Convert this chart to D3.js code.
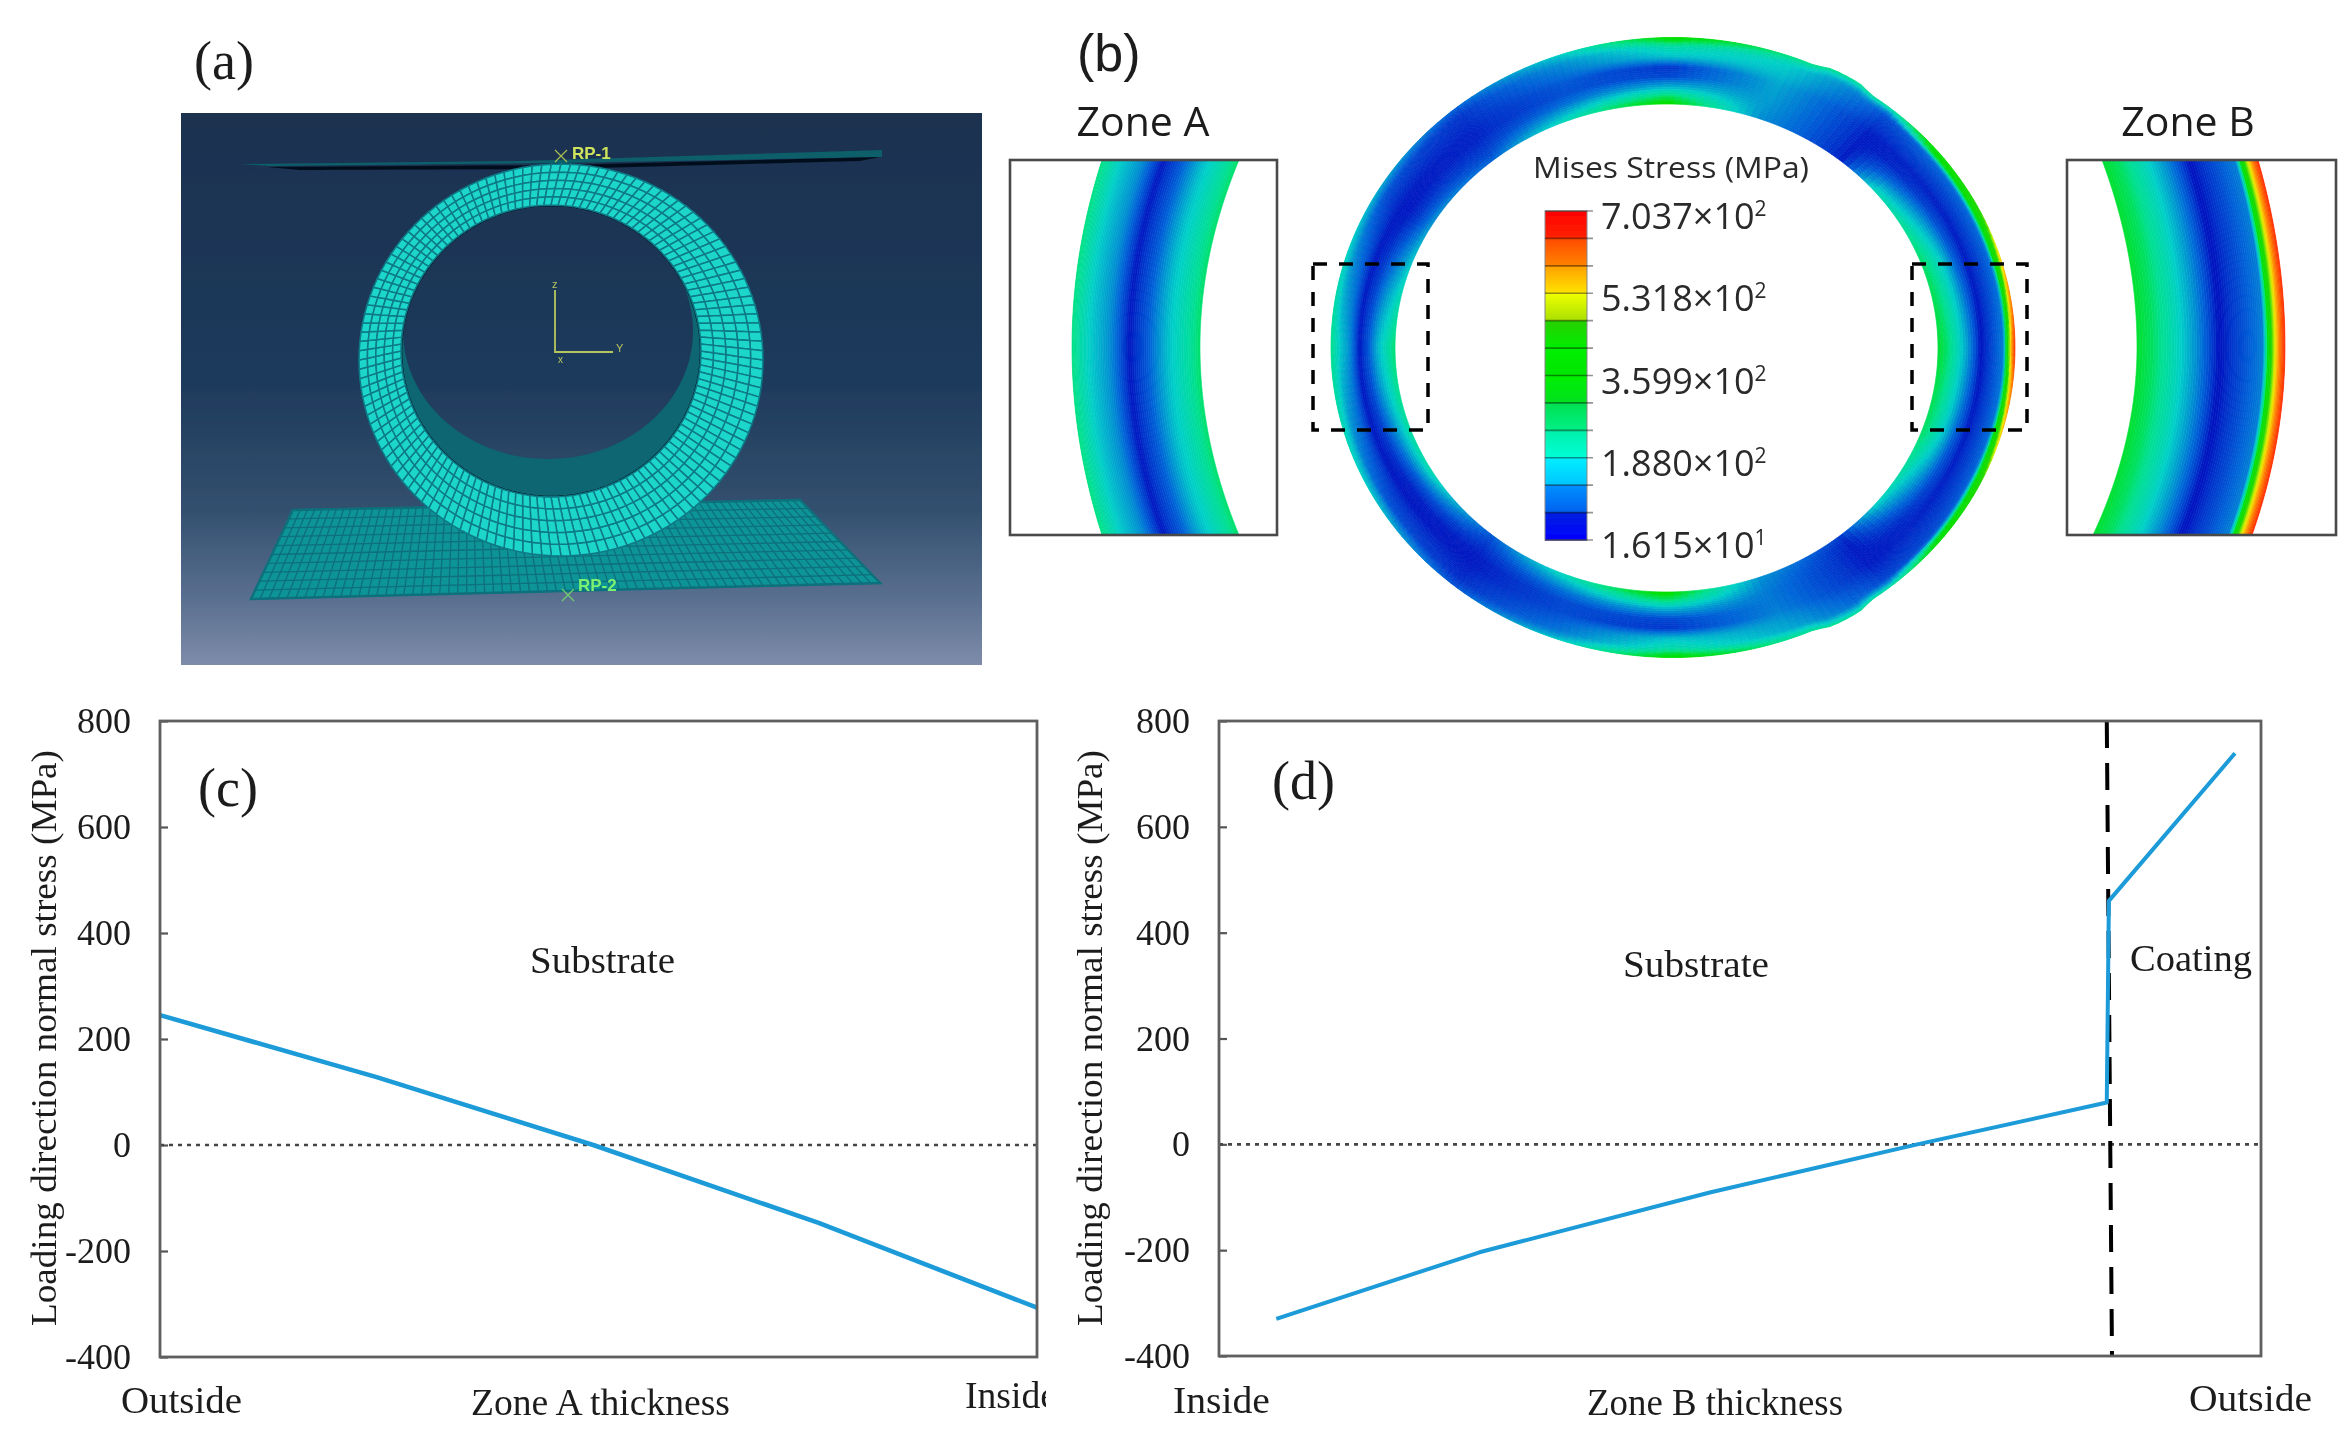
<!DOCTYPE html>
<html><head><meta charset="utf-8">
<script src="https://cdnjs.cloudflare.com/ajax/libs/d3/7.8.5/d3.min.js"></script>
<style>html,body{margin:0;padding:0;background:#fff;width:2350px;height:1440px;overflow:hidden}svg{display:block}</style>
</head><body><svg id="chart" width="2350" height="1440" xmlns="http://www.w3.org/2000/svg"></svg>
<script>
// ---------- data ----------
const yTicks = [-400,-200,0,200,400,600,800];
const panelCx = [0, 0.247, 0.494, 0.751, 1];
const panelCy = [245, 128, 0, -147, -307];
const panelDx = [0.055, 0.25, 0.471, 0.668, 0.852, 0.854, 0.975];
const panelDy = [-330, -204, -91, -1, 79, 460, 739];
const interfaceDx = [0.852, 0.857];
const yTitle = "Loading direction normal stress (MPa)";
const barTicks = [703.7, 531.8, 359.9, 188.0, 16.15];
const barLabels = [["7.037","2"],["5.318","2"],["3.599","2"],["1.880","2"],["1.615","1"]];
const bandTop =    ["#ff0000","#ff4a00","#ffa000","#f0ff00","#28d000","#00f000","#00f000","#00e050","#00f0a8","#00f0ff","#0090ff","#0020e0"];
const bandBottom = ["#ff2400","#ff8400","#ffe400","#a8e000","#00ee00","#00e400","#00e020","#00f088","#00ffd8","#00c4ff","#0060ee","#0000ff"];
const ringStress = [16,45,80,125,165,225,300,460,531,600,704];
const ringColors = ["#0000b8","#0034cc","#0064d8","#00a0d0","#00d0c8","#00e090","#00e000","#20d800","#f0f000","#ff9000","#ff2000"];
const uStops = [0,.03,.06,.09,.12,.15,.3,.45,.6,.75,.9,1];
const profileAngles = [0,20,40,50,70,90,110,130,150,180,210,230,250,270,290,310,320,340,360];
const profiles = [
 [700,640,560,470,280,100,60,25,110,188,250,275],
 [540,480,400,320,200,85,55,30,80,160,220,250],
 [320,310,290,240,120,80,55,35,40,80,140,190],
 [220,170,120,90,70,60,45,32,30,30,30,35],
 [240,220,200,185,175,165,150,130,125,120,115,110],
 [320,300,280,250,225,200,150,45,60,140,260,320],
 [170,150,140,130,120,110,90,70,65,90,150,200],
 [80,70,60,55,50,45,40,35,35,45,60,80],
 [140,120,105,90,75,65,45,30,30,45,80,120],
 [235,220,205,190,175,160,110,28,75,150,205,245],
 [160,140,125,110,90,70,50,28,35,70,140,200],
 [70,60,55,50,45,40,35,30,30,40,55,70],
 [170,140,125,110,100,90,75,60,60,90,150,200],
 [320,300,280,250,225,200,150,45,60,140,260,320],
 [230,210,190,170,150,135,120,100,95,95,105,115],
 [220,170,120,90,65,55,40,30,30,30,35,50],
 [300,290,270,200,90,60,45,35,40,70,120,170],
 [540,480,400,320,200,85,55,30,80,160,220,250],
 [700,640,560,470,280,100,60,25,110,188,250,275]
];

// ---------- helpers ----------
const svg = d3.select("#chart");
const defs = svg.append("defs");
const SERIF = "'Liberation Serif','Times New Roman',serif";
const SANS = "'Open Sans','Noto Sans',sans-serif";
const TXT = "#1c1c1c";
defs.append("filter").attr("id","soft").attr("filterUnits","userSpaceOnUse")
  .attr("x",0).attr("y",0).attr("width",2350).attr("height",1440)
  .append("feGaussianBlur").attr("stdDeviation",0.75);
const root = svg.append("g").attr("filter","url(#soft)");
root.append("rect").attr("width",2350).attr("height",1440).attr("fill","#fff");
const lerp = (a,b,t)=>a+(b-a)*t;
function addText(g,str,x,y,size,opts={}){
  return g.append("text").attr("x",x).attr("y",y).attr("font-size",size)
    .attr("font-family",opts.family||SERIF).attr("fill",opts.fill||TXT)
    .attr("text-anchor",opts.anchor||"start").attr("font-weight",opts.weight||"normal")
    .text(str);
}

// ---------- panel (a) : FE mesh illustration ----------
(function(){
  const g = root.append("g");
  const grad = defs.append("linearGradient").attr("id","bgA").attr("x1",0).attr("y1",0).attr("x2",0).attr("y2",1);
  [[0,"#1a3150"],[.5,"#1f3b5c"],[.72,"#33506f"],[.88,"#5a6f90"],[1,"#7d8ca9"]].forEach(s=>grad.append("stop").attr("offset",s[0]).attr("stop-color",s[1]));
  g.append("rect").attr("x",181).attr("y",113).attr("width",801).attr("height",552).attr("fill","url(#bgA)");

  // floor plate mesh
  const c = [[293,510],[800,500],[880,583],[251,599]];
  const bil=(s,t)=>{const a=[lerp(c[0][0],c[1][0],s),lerp(c[0][1],c[1][1],s)],b=[lerp(c[3][0],c[2][0],s),lerp(c[3][1],c[2][1],s)];return [lerp(a[0],b[0],t),lerp(a[1],b[1],t)];};
  g.append("path").attr("d","M"+c.join("L")+"Z").attr("fill","#0e9496").attr("stroke","#0a7480").attr("stroke-width",2.5);
  const line=d3.line();
  const floorLines=[];
  d3.range(0,1.0001,1/70).forEach(s=>floorLines.push([bil(s,0),bil(s,1)]));
  d3.range(0,1.0001,1/10).forEach(t=>floorLines.push([bil(0,t),bil(1,t)]));
  g.selectAll(".fl").data(floorLines).join("path").attr("d",line).attr("stroke","#0a6f7a").attr("stroke-width",1.3).attr("fill","none");

  // top plate
  g.append("path").attr("d","M240,164L520,161L882,150L882,157L560,163L270,166Z").attr("fill","#0e5e6b");
  g.append("path").attr("d","M267,167L560,165L880,157L860,161L560,169L300,170Z").attr("fill","#04101c");

  // ring: inner wall
  const O={cx:561,cy:360,rx:202,ry:196}, I={cx:551,cy:351,rx:150,ry:146}, B={cx:548,cy:331,rx:145,ry:128};
  const ell=(e,ph)=>[e.cx+e.rx*Math.cos(ph),e.cy+e.ry*Math.sin(ph)];
  const loop=e=>"M"+d3.range(0,360,3).map(d=>ell(e,d*Math.PI/180)).join("L")+"Z";
  g.append("path").attr("d",loop(I)+loop(B)).attr("fill-rule","evenodd").attr("fill","#0b6672");
  g.append("path").attr("d",loop(I)).attr("fill","none").attr("stroke","#061a28").attr("stroke-width",2.5);
  // ring: face cells
  const N=132,R=5,cells=[];
  d3.range(N).forEach(i=>d3.range(R).forEach(j=>{
    const a0=i/N*2*Math.PI,a1=(i+1)/N*2*Math.PI,u0=j/R,u1=(j+1)/R;
    const p=(a,u)=>{const q=ell(O,a),r=ell(I,a);return [lerp(q[0],r[0],u),lerp(q[1],r[1],u)];};
    cells.push([p(a0,u0),p(a1,u0),p(a1,u1),p(a0,u1)]);
  }));
  g.selectAll(".cell").data(cells).join("path").attr("d",d=>"M"+d.join("L")+"Z")
    .attr("fill","#1fd6cc").attr("stroke","#0b7a86").attr("stroke-width",1.5);

  // triad and reference points
  const ol="#b6c65c";
  g.append("path").attr("d","M555,290V352H613").attr("fill","none").attr("stroke",ol).attr("stroke-width",1.8);
  addText(g,"z",552,288,11,{family:"'Liberation Sans',sans-serif",fill:ol});
  addText(g,"Y",616,352,11,{family:"'Liberation Sans',sans-serif",fill:ol});
  addText(g,"x",558,363,10,{family:"'Liberation Sans',sans-serif",fill:ol});
  g.append("path").attr("d","M555,150L567,162M567,150L555,162").attr("stroke","#a8c050").attr("stroke-width",1.2);
  addText(g,"RP-1",572,159,17,{family:"'Liberation Sans',sans-serif",fill:"#cfe45c",weight:"bold"});
  g.append("path").attr("d","M562,589L574,601M574,589L562,601").attr("stroke","#70d070").attr("stroke-width",1.2);
  addText(g,"RP-2",578,591,17,{family:"'Liberation Sans',sans-serif",fill:"#7cf070",weight:"bold"});
  addText(g,"(a)",194,79,54);
})();

// ---------- panel (b) : Mises stress contour ----------
const stressColor = d3.scaleLinear().domain(ringStress).range(ringColors).clamp(true);
function profileAt(deg){
  deg=((deg%360)+360)%360;
  let i=d3.bisectRight(profileAngles,deg)-1; i=Math.min(i,profileAngles.length-2);
  const t=(deg-profileAngles[i])/(profileAngles[i+1]-profileAngles[i]);
  return profiles[i].map((v,k)=>lerp(v,profiles[i+1][k],t));
}
(function(){
  const g=root.append("g");
  const bump=deg=>{ // local contact flats on the outer edge
    const b=(c,w)=>Math.abs(deg-c)<w?1-Math.pow(Math.abs(deg-c)/w,4):0;
    return 1+0.012*b(60,5)+0.012*b(300,5);
  };
  const pt=(deg,u)=>{
    const a=deg*Math.PI/180,k=bump(deg);
    const ox=1673+342*k*Math.cos(a),oy=347.5-310*k*Math.sin(a);
    const ix=1666.5+271.5*Math.cos(a),iy=348-244*Math.sin(a);
    return [lerp(ox,ix,u),lerp(oy,iy,u)];
  };
  const NA=240,NU=36,cells=[];
  d3.range(NA).forEach(i=>{
    const d0=i/NA*360,d1=(i+1)/NA*360,sc=d3.scaleLinear().domain(uStops).range(profileAt((d0+d1)/2));
    d3.range(NU).forEach(j=>{
      const u0=Math.pow(j/NU,1.35),u1=Math.pow((j+1)/NU,1.35);
      cells.push({p:[pt(d0,u0),pt(d1,u0),pt(d1,u1),pt(d0,u1)],c:stressColor(sc((u0+u1)/2))});
    });
  });
  g.selectAll(".rc").data(cells).join("path").attr("d",d=>"M"+d.p.join("L")+"Z")
    .attr("fill",d=>d.c).attr("stroke",d=>d.c).attr("stroke-width",.7);

  // dashed selection boxes
  [[1313,264,115,166],[1912,264,115,166]].forEach(b=>g.append("rect")
    .attr("x",b[0]).attr("y",b[1]).attr("width",b[2]).attr("height",b[3])
    .attr("fill","none").attr("stroke","#000").attr("stroke-width",3.5).attr("stroke-dasharray","14 12"));

  // zoomed insets
  function inset(box,inner,outer,deg){
    const top=160,bot=535,ym=347;
    const edge=(e,y)=>{const f=(y-ym)/(y<ym?ym-top:bot-ym);return e[1]+((y<ym?e[0]:e[2])-e[1])*f*f;};
    const sc=d3.scaleLinear().domain(uStops).range(profileAt(deg));
    const ys=d3.range(top,bot+1,5),L=70,layers=[];
    d3.range(L).forEach(j=>{
      const u0=Math.pow(j/L,1.3),u1=Math.pow((j+1)/L,1.3);
      layers.push({u0,u1,c:stressColor(sc((u0+u1)/2))});
    });
    const area=d3.area().y(d=>d.y).x0(d=>d.a).x1(d=>d.b);
    g.selectAll(null).data(layers).join("path").attr("d",l=>area(ys.map(y=>{
      const o=edge(outer,y),i=edge(inner,y);
      return {y,a:lerp(o,i,l.u0),b:lerp(o,i,l.u1)};
    }))).attr("fill",l=>l.c).attr("stroke",l=>l.c).attr("stroke-width",.6);
    g.append("rect").attr("x",box[0]).attr("y",top).attr("width",box[1]-box[0]).attr("height",bot-top)
      .attr("fill","none").attr("stroke","#4a4a4a").attr("stroke-width",2.6);
  }
  inset([1010,1277],[1239,1200,1239],[1102,1072,1102],180);
  inset([2067,2336],[2102,2137,2093],[2258,2285,2252],0);

  addText(g,"Zone A",1143,136,41,{family:SANS,anchor:"middle"});
  addText(g,"Zone B",2188,136,41,{family:SANS,anchor:"middle"});
  addText(g,"(b)",1077,71,52,{family:"'Liberation Sans',sans-serif"});
  addText(g,"Mises Stress (MPa)",1533,178,28.5,{family:SANS,fill:"#2a2a2a"}).attr("textLength",276).attr("lengthAdjust","spacingAndGlyphs");

  // colour bar
  const barY=d3.scaleLinear().domain([16.15,703.7]).range([540,211]);
  const edges=d3.range(13).map(i=>lerp(703.7,16.15,i/12));
  const bands=d3.range(12).map(i=>({i,hi:edges[i],lo:edges[i+1]}));
  bands.forEach(b=>{
    const gr=defs.append("linearGradient").attr("id","band"+b.i).attr("x1",0).attr("y1",0).attr("x2",0).attr("y2",1);
    gr.append("stop").attr("offset",0).attr("stop-color",bandTop[b.i]);
    gr.append("stop").attr("offset",1).attr("stop-color",bandBottom[b.i]);
  });
  g.selectAll(".band").data(bands).join("rect").attr("x",1545).attr("width",42)
    .attr("y",b=>barY(b.hi)).attr("height",b=>barY(b.lo)-barY(b.hi)+.5).attr("fill",b=>`url(#band${b.i})`);
  g.append("rect").attr("x",1545).attr("y",211).attr("width",42).attr("height",329).attr("fill","none").attr("stroke","#888").attr("stroke-width",1);
  const axBar=g.append("g").attr("transform","translate(1545,0)");
  axBar.selectAll("line").data(edges).join("line").attr("x1",0).attr("x2",48)
    .attr("y1",d=>barY(d)).attr("y2",d=>barY(d)).attr("stroke","#000").attr("stroke-opacity",.42).attr("stroke-width",1.6);
  barTicks.forEach((v,i)=>{
    const t=addText(g,"",1601,barY(v)+18,36,{family:SANS,fill:"#2a2a2a"});
    t.append("tspan").text(barLabels[i][0]+"\u00d710");
    t.append("tspan").attr("dy",-13).attr("font-size",21).text(barLabels[i][1]);
  });
})();

// ---------- panels (c) and (d) : stress profiles ----------
function profilePanel(o){
  const g=root.append("g");
  const x=d3.scaleLinear().domain([0,1]).range([o.left,o.right]);
  const y=d3.scaleLinear().domain([-400,800]).range([o.bottom,o.top]);
  const ax=g.append("g").attr("transform",`translate(${o.left},0)`)
    .call(d3.axisLeft(y).tickValues(yTicks).tickSize(-8).tickPadding(o.pad).tickFormat(d=>String(d)));
  ax.select(".domain").remove();
  ax.selectAll("line").attr("stroke","#555").attr("stroke-width",2.2);
  ax.selectAll("text").attr("font-family",SERIF).attr("font-size",36).attr("fill",TXT);
  g.append("line").attr("x1",x(0)).attr("x2",x(1)).attr("y1",y(0)).attr("y2",y(0))
    .attr("stroke","#444").attr("stroke-width",2.6).attr("stroke-dasharray","4 5");
  const line=d3.line().x(d=>x(d[0])).y(d=>y(d[1]));
  if(o.iface){
    g.append("path").attr("d",line([[o.iface[0],800],[o.iface[1],-400]]))
      .attr("stroke","#000").attr("stroke-width",4).attr("stroke-dasharray","27 15").attr("fill","none");
  }
  g.append("path").attr("d",line(d3.zip(o.xs,o.ys))).attr("fill","none").attr("stroke","#1a9bd8").attr("stroke-width",o.lw).attr("stroke-linejoin","round");
  g.append("rect").attr("x",o.left).attr("y",o.top).attr("width",o.right-o.left).attr("height",o.bottom-o.top)
    .attr("fill","none").attr("stroke","#5e5e5e").attr("stroke-width",2.8);
  addText(g,yTitle,0,0,36).attr("transform",`translate(${o.titleX},1326) rotate(-90)`)
    .attr("textLength",576).attr("lengthAdjust","spacingAndGlyphs");
  o.labels.forEach(l=>{
    const t=addText(g,l.s,l.x,l.y,l.size||37);
    if(l.w) t.attr("textLength",l.w).attr("lengthAdjust","spacingAndGlyphs");
    if(l.clip) t.attr("clip-path",`url(#${l.clip})`);
  });
}
defs.append("clipPath").attr("id","clipInside").append("rect").attr("x",950).attr("y",1360).attr("width",96).attr("height",70);
profilePanel({left:160,right:1037,top:721,bottom:1357,pad:29,titleX:56,lw:4.6,xs:panelCx,ys:panelCy,labels:[
  {s:"(c)",x:198,y:806,size:54},
  {s:"Substrate",x:530,y:973,w:145},
  {s:"Outside",x:121,y:1413,w:121},
  {s:"Zone A thickness",x:471,y:1415,w:259},
  {s:"Inside",x:965,y:1408,w:92,clip:"clipInside"}
]});
profilePanel({left:1219,right:2261,top:721,bottom:1356,pad:29,titleX:1102,lw:4,xs:panelDx,ys:panelDy,iface:interfaceDx,labels:[
  {s:"(d)",x:1272,y:799,size:54},
  {s:"Substrate",x:1623,y:977,w:146},
  {s:"Coating",x:2130,y:971,w:122},
  {s:"Inside",x:1173,y:1413,w:97},
  {s:"Zone B thickness",x:1587,y:1415,w:256},
  {s:"Outside",x:2189,y:1411,w:123}
]});
</script></body></html>
